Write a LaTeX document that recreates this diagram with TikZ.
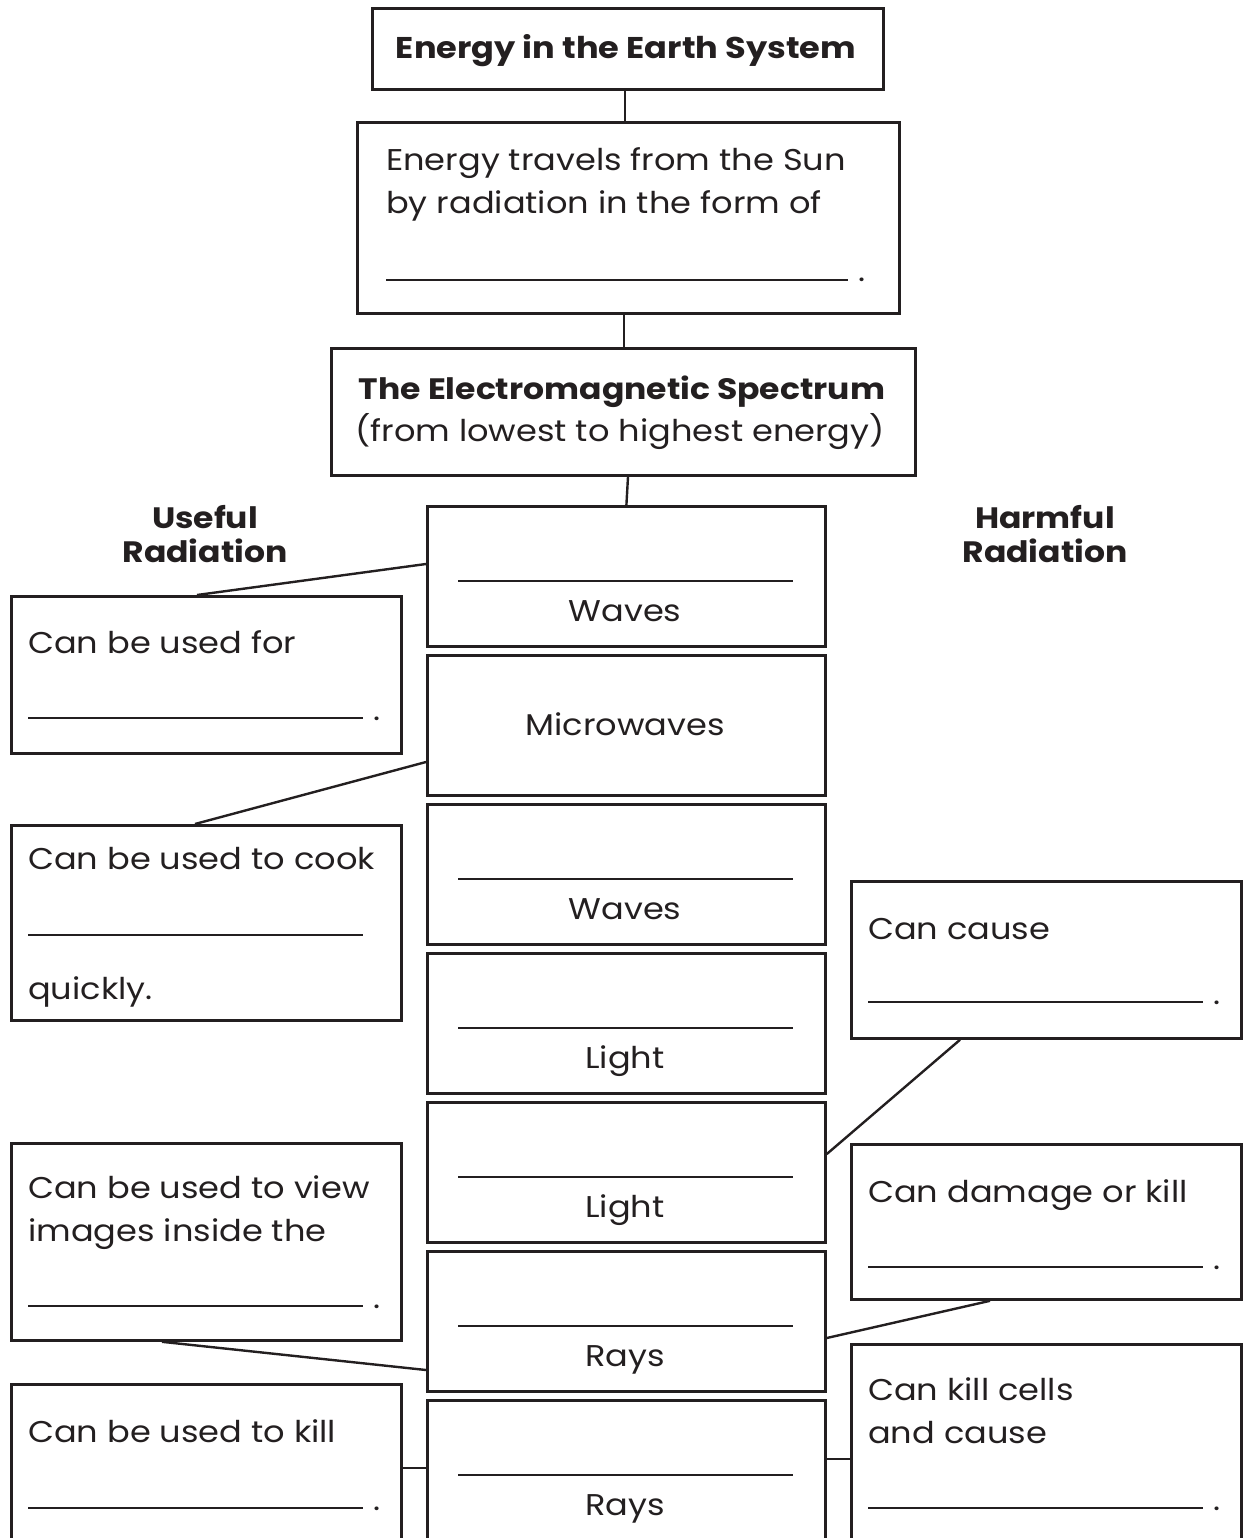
\documentclass[tikz,border=0pt]{standalone}
\usepackage{fontspec}
\setmainfont{Poppins}[FakeStretch=1.12]
\usetikzlibrary{calc}
\definecolor{ink}{HTML}{231F20}
\newcommand{\bodyfont}{\fontsize{30}{43}\selectfont}
\newcommand{\headfont}{\fontsize{29.5}{34}\selectfont\bfseries}
\tikzset{
  box/.style={draw=ink, line width=2.8pt, inner sep=0pt, anchor=north west},
  txt/.style={text=ink, font=\bodyfont, inner sep=0pt, anchor=base west},
  ctxt/.style={text=ink, font=\bodyfont, inner sep=0pt, anchor=base},
  head/.style={text=ink, font=\headfont, inner sep=0pt, anchor=base},
  blank/.style={draw=ink, line width=1.8pt},
  link/.style={draw=ink, line width=2.4pt},
}
\begin{document}
\begin{tikzpicture}[x=1pt, y=-1pt]
\useasboundingbox (0,0) rectangle (1247,1538);
\clip (0,0) rectangle (1247,1538);

% ---- top chain ----
\node[box, minimum width=511pt, minimum height=81pt] (title) at (371,7) {};
\node[head, font=\fontsize{30}{34}\selectfont\bfseries] (titletxt) at (626,59) {Energy in the Earth System};

\node[box, minimum width=542pt, minimum height=191pt] (sun) at (356,121) {};
\node[txt] (sun1) at (386,171) {Energy travels from the Sun};
\node[txt] (sun2) at (386,214) {by radiation in the form of};
\coordinate (sunb1) at (386,280);
\coordinate (sunb2) at (848,280);
\draw[blank] (sunb1) -- (sunb2);
\node[txt] (sundot) at (858,281) {.};

\node[box, minimum width=584pt, minimum height=127pt] (ems) at (330,347) {};
\node[head] (ems1) at (622,399) {The Electromagnetic Spectrum};
\node[ctxt] (ems2) at (620,441) {(from lowest to highest energy)};

\draw[link] ($(title.south west)+(254,0)$) -- ($(sun.north west)+(269,0)$);
\draw[link] ($(sun.south west)+(268,0)$) -- ($(ems.north west)+(294,0)$);

% ---- column headings ----
\node[head] (use1) at (205,528) {Useful};
\node[head] (use2) at (205,562) {Radiation};
\node[head] (harm1) at (1045,528) {Harmful};
\node[head] (harm2) at (1045,562) {Radiation};

% ---- spectrum column ----
\foreach \i/\t/\lab/\hasline in {1/505/Waves/1, 2/654/Microwaves/0, 3/803/Waves/1, 4/952/Light/1, 5/1101/Light/1, 6/1250/Rays/1, 7/1399/Rays/1}{
  \node[box, minimum width=398pt, minimum height=140pt] (c\i) at (426,\t) {};
  \ifnum\hasline=1
    \draw[blank] ($(c\i.north west)+(32,76)$) coordinate (c\i a) -- ($(c\i.north west)+(367,76)$) coordinate (c\i b);
    \node[ctxt] (c\i txt) at ($(c\i.north west)+(199,116)$) {\lab};
  \else
    \node[ctxt] (c\i txt) at ($(c\i.north west)+(199,81)$) {\lab};
  \fi
}
\draw[link] ($(ems.south west)+(298,0)$) -- (c1.north);

% ---- useful radiation boxes ----
\node[box, minimum width=390pt, minimum height=157pt] (L1) at (10,595) {};
\node[txt] (L1a) at (28,653) {Can be used for};
\draw[blank] (28,718) coordinate (L1b1) -- (363,718) coordinate (L1b2);
\node[txt] (L1dot) at (373,720) {.};

\node[box, minimum width=390pt, minimum height=195pt] (L2) at (10,824) {};
\node[txt] (L2a) at (28,869) {Can be used to cook};
\draw[blank] (28,935) coordinate (L2b1) -- (363,935) coordinate (L2b2);
\node[txt] (L2c) at (28,999) {quickly.};

\node[box, minimum width=390pt, minimum height=197pt] (L3) at (10,1142) {};
\node[txt] (L3a) at (28,1198) {Can be used to view};
\node[txt] (L3b) at (28,1241) {images inside the};
\draw[blank] (28,1306) coordinate (L3b1) -- (363,1306) coordinate (L3b2);
\node[txt] (L3dot) at (373,1308) {.};

\node[box, minimum width=390pt, minimum height=170pt] (L4) at (10,1383) {};
\node[txt] (L4a) at (28,1442) {Can be used to kill};
\draw[blank] (28,1508) coordinate (L4b1) -- (363,1508) coordinate (L4b2);
\node[txt] (L4dot) at (373,1510) {.};

% ---- harmful radiation boxes ----
\node[box, minimum width=390pt, minimum height=157pt] (R1) at (850,880) {};
\node[txt] (R1a) at (868,939) {Can cause};
\draw[blank] (868,1002) coordinate (R1b1) -- (1203,1002) coordinate (R1b2);
\node[txt] (R1dot) at (1213,1004) {.};

\node[box, minimum width=390pt, minimum height=155pt] (R2) at (850,1143) {};
\node[txt] (R2a) at (868,1202) {Can damage or kill};
\draw[blank] (868,1267) coordinate (R2b1) -- (1203,1267) coordinate (R2b2);
\node[txt] (R2dot) at (1213,1269) {.};

\node[box, minimum width=390pt, minimum height=210pt] (R3) at (850,1343) {};
\node[txt] (R3a) at (868,1400) {Can kill cells};
\node[txt] (R3b) at (868,1443) {and cause};
\draw[blank] (868,1508) coordinate (R3b1) -- (1203,1508) coordinate (R3b2);
\node[txt] (R3dot) at (1213,1510) {.};

% ---- connectors ----
\draw[link] ($(c1.north west)+(0,59)$) -- ($(L1.north west)+(187,0)$);
\draw[link] ($(c2.north west)+(0,108)$) -- ($(L2.north west)+(185,0)$);
\draw[link] ($(R1.south west)+(110,0)$) -- ($(c5.north east)+(0,53)$);
\draw[link] ($(R2.south west)+(140,0)$) -- ($(c6.north east)+(0,88)$);
\draw[link] ($(L3.south west)+(152,0)$) -- ($(c6.north west)+(0,120)$);
\draw[link] ($(L4.north east)+(0,85)$) -- ($(c7.north west)+(0,69)$);
\draw[link] ($(R3.north west)+(0,116)$) -- ($(c7.north east)+(0,60)$);
\end{tikzpicture}
\end{document}
